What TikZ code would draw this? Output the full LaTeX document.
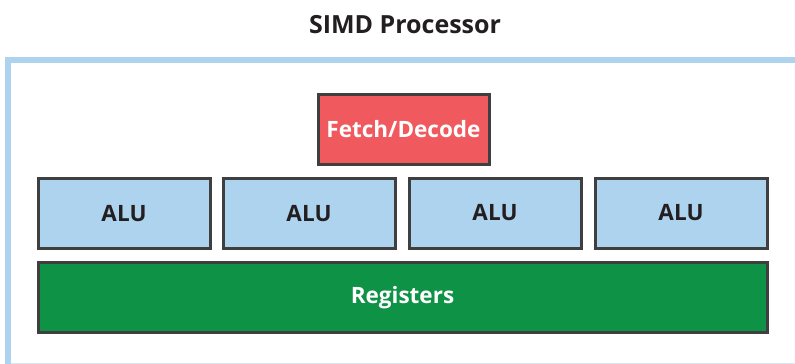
\documentclass[tikz,border=0pt]{standalone}
\usepackage{fontspec}
\setmainfont{Open Sans}
\definecolor{alublue}{HTML}{AED3EE}
\definecolor{fetchred}{HTML}{F05A5E}
\definecolor{reggreen}{HTML}{0E9245}
\definecolor{boxborder}{HTML}{3F3F3F}
\definecolor{frameblue}{HTML}{AED3EE}
\definecolor{framelight}{HTML}{D6E7F5}
\definecolor{textdark}{HTML}{231F20}
\begin{document}
\begin{tikzpicture}[x=1pt,y=-1pt,
  unit/.style={draw=boxborder,line width=3pt,minimum height=70pt,inner sep=0pt,
    font=\fontsize{22.5}{26}\selectfont\bfseries},
  alubox/.style={unit,fill=alublue,text=textdark,minimum width=172pt},
  fetchbox/.style={unit,fill=fetchred,text=white,minimum width=171pt},
  regbox/.style={unit,fill=reggreen,text=white,minimum width=729pt},
  titletext/.style={font=\fontsize{25}{30}\selectfont\bfseries,text=textdark}]
\useasboundingbox (0,0) rectangle (795,364);
% outer frame
\draw[framelight,line width=1.2pt] (8,363.2) -- (795,363.2);
\draw[frameblue,line width=5.5pt] (7.75,364) -- (7.75,60) -- (795,60);
\node[titletext] (title) at (405,25) {SIMD Processor};
\node[fetchbox] (fetch) at (403.5,129.5) {Fetch/Decode};
\node[alubox] (alu1) at (124,213.5) {ALU};
\node[alubox] (alu2) at (309,213.5) {ALU};
\node[alubox] (alu3) at (495,213) {ALU};
\node[alubox] (alu4) at (681,213) {ALU};
\node[regbox] (regs) at (402.5,297.5) {Registers};
\end{tikzpicture}
\end{document}
